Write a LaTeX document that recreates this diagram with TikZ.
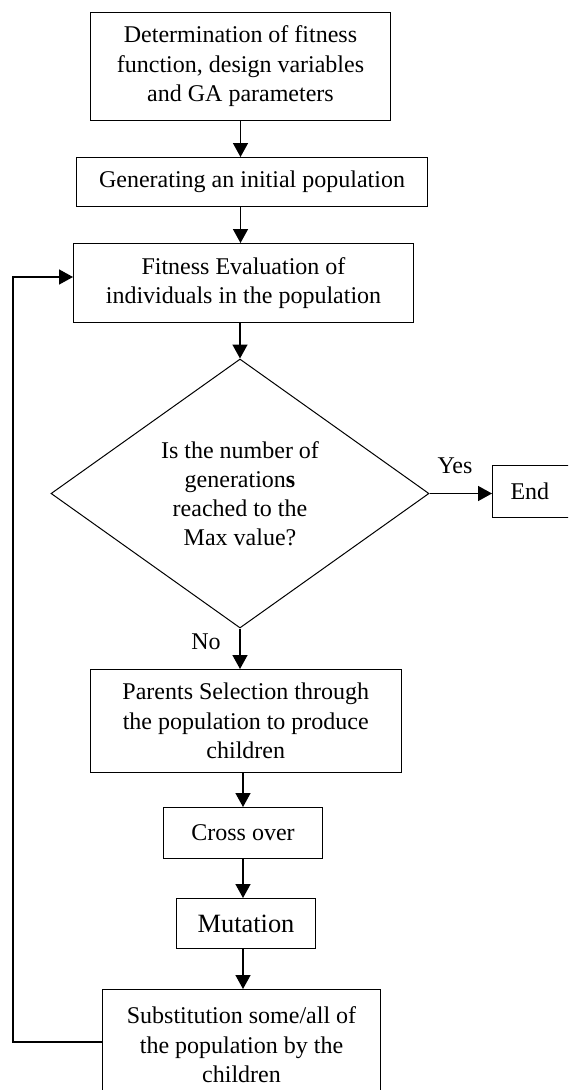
\documentclass[tikz,border=0pt]{standalone}
\usepackage{fontspec}
\setmainfont{Liberation Serif}
\usetikzlibrary{shapes.geometric,arrows.meta}
\begin{document}
\begin{tikzpicture}[x=1pt,y=-1pt,
  box/.style={draw, line width=1pt, align=center, inner sep=0pt, anchor=north west,
    font=\fontsize{24}{29.5}\selectfont},
  dec/.style={draw, line width=1pt, shape=diamond, aspect=1.4, inner sep=0pt,
    minimum width=378pt, minimum height=269pt, align=center,
    font=\fontsize{24}{29}\selectfont},
  arr/.style={line width=1.5pt, -{Triangle[length=14pt,width=15pt]}},
  lbl/.style={font=\fontsize{24}{29}\selectfont, inner sep=0pt}]
\useasboundingbox (0,0) rectangle (568,1090);
\clip (0,0) rectangle (568,1090);
\fill[white] (0,0) rectangle (568,1090);
\node[box, minimum width=300pt, minimum height=108pt] (b1) at (90,12)
  {Determination of fitness\\function, design variables\\and GA parameters};
\node[box, minimum width=351pt, minimum height=49pt] (b2) at (76,157)
  {Generating an initial population};
\node[box, minimum width=340pt, minimum height=79pt] (b3) at (73,243)
  {Fitness Evaluation of\\individuals in the population};
\node[dec] (d) at (240,493.5)
  {Is the number of\\generation\textbf{s}\\reached to the\\Max value?};
\node[box, minimum width=90pt, minimum height=52pt, text width=70pt, align=left] (end) at (492,465)
  {\hspace{8pt}End};
\node[box, minimum width=311.5pt, minimum height=103pt] (ps) at (89.5,669)
  {Parents Selection through\\the population to produce\\children};
\node[box, minimum width=159pt, minimum height=51pt] (co) at (163,807)
  {Cross over};
\node[box, minimum width=139pt, minimum height=50pt, font=\fontsize{26.4}{30}\selectfont] (mu) at (176,898)
  {Mutation};
\node[box, minimum width=278pt, minimum height=106pt, anchor=north west] (su) at (102,989)
  {\rule{0pt}{0pt}\\[-8pt]Substitution some/all of\\the population by the\\children};
\node[lbl] (yes) at (455,466) {Yes};
\node[lbl] (no) at (206,642) {No};
\draw[arr] (b1.south) -- (b1.south |- b2.north);
\draw[arr] (b2.south -| b1.south) -- (b1.south |- b3.north);
\draw[arr] (b3.south -| d.north) -- (d.north);
\draw[arr] (d.east) -- (d.east -| end.west);
\draw[arr] (d.south) -- (d.south |- ps.north);
\draw[arr] (ps.south -| co.north) -- (co.north);
\draw[arr] (co.south) -- (co.south |- mu.north);
\draw[arr] (mu.south -| co.south) -- (co.south |- su.north);
\coordinate (fbb) at (13,1042);
\coordinate (fbt) at (13,277);
\draw[arr] (su.west |- fbb) -- (fbb) -- (fbt) -- (fbt -| b3.west);
\end{tikzpicture}
\end{document}
